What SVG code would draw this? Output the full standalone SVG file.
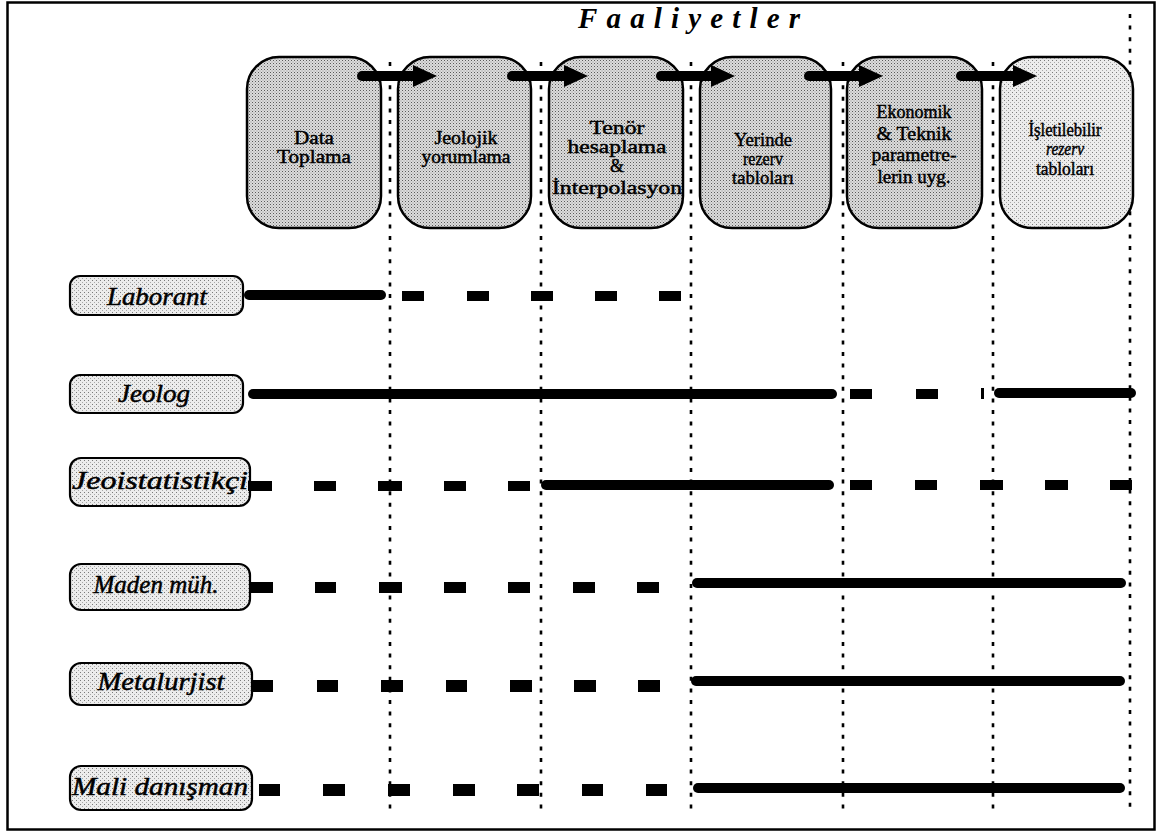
<svg xmlns="http://www.w3.org/2000/svg" width="1160" height="832" viewBox="0 0 1160 832">
<style>
.act{stroke:#000;stroke-width:2.5}
.role{stroke:#000;stroke-width:2.2}
.at{font-family:"Liberation Serif","Times New Roman",serif;font-size:18px;fill:#000;stroke:#000;stroke-width:0.45;text-anchor:middle}
.rt{font-family:"Liberation Serif","Times New Roman",serif;font-size:26px;font-style:italic;fill:#000;stroke:#000;stroke-width:0.5;text-anchor:middle}
.grid{stroke:#000;stroke-width:2.6;stroke-dasharray:4 7.6;fill:none}
.bar{stroke:#000;stroke-width:10;stroke-linecap:round;fill:none}
.arr{stroke:#000;stroke-width:10;stroke-linecap:round;fill:none}
.d{fill:#000}
</style>
<defs>
<pattern id="stip" width="3" height="3" patternUnits="userSpaceOnUse">
<rect width="3" height="3" fill="#dcdcdc"/>
<rect x="0" y="0" width="1" height="1" fill="#5a5a5a"/>
<rect x="1.5" y="1.5" width="1" height="1" fill="#909090"/>
</pattern>
<pattern id="stipL" width="4" height="4" patternUnits="userSpaceOnUse">
<rect width="4" height="4" fill="#ececec"/>
<rect x="0" y="0" width="1" height="1" fill="#7a7a7a"/>
<rect x="2" y="2" width="1" height="1" fill="#a8a8a8"/>
</pattern>
<marker id="ah" viewBox="0 0 24 22" markerWidth="24" markerHeight="22" refX="2" refY="11" orient="auto" markerUnits="userSpaceOnUse">
<path d="M0,0 L24,11 L0,22 z" fill="#000"/>
</marker>
</defs>
<rect x="0" y="0" width="1160" height="832" fill="#fff"/>
<rect x="7.5" y="2.5" width="1147" height="827" fill="none" stroke="#000" stroke-width="2.5"/>
<text x="578" y="28" font-family="'Liberation Serif','Times New Roman',serif" font-size="29" font-weight="bold" font-style="italic" textLength="222" lengthAdjust="spacing">Faaliyetler</text>

<g id="grid">
<line class="grid" x1="390" y1="62" x2="390" y2="812"/>
<line class="grid" x1="541" y1="62" x2="541" y2="812"/>
<line class="grid" x1="691" y1="62" x2="691" y2="812"/>
<line class="grid" x1="843" y1="62" x2="843" y2="812"/>
<line class="grid" x1="993" y1="62" x2="993" y2="812"/>
<line class="grid" x1="1130" y1="14" x2="1130" y2="812"/>
</g>

<g id="act1">
<rect class="act" x="247" y="57" width="134" height="171" rx="32" fill="url(#stip)"/>
<text class="at" x="314" y="144" textLength="40" lengthAdjust="spacingAndGlyphs">Data</text>
<text class="at" x="314" y="163" textLength="74" lengthAdjust="spacingAndGlyphs">Toplama</text>
</g>
<g id="act2">
<rect class="act" x="398" y="57" width="133" height="171" rx="32" fill="url(#stip)"/>
<text class="at" x="466" y="144" textLength="63" lengthAdjust="spacingAndGlyphs">Jeolojik</text>
<text class="at" x="466" y="163" textLength="89" lengthAdjust="spacingAndGlyphs">yorumlama</text>
</g>
<g id="act3">
<rect class="act" x="549" y="57" width="134" height="171" rx="32" fill="url(#stip)"/>
<text class="at" x="617" y="134" textLength="55" lengthAdjust="spacingAndGlyphs">Tenör</text>
<text class="at" x="617" y="153" textLength="99" lengthAdjust="spacingAndGlyphs">hesaplama</text>
<text class="at" x="617" y="172">&amp;</text>
<text class="at" x="617" y="194" textLength="130" lengthAdjust="spacingAndGlyphs">İnterpolasyon</text>
</g>
<g id="act4">
<rect class="act" x="700" y="57" width="131" height="171" rx="32" fill="url(#stip)"/>
<text class="at" x="763" y="146" textLength="58" lengthAdjust="spacingAndGlyphs">Yerinde</text>
<text class="at" x="763" y="165" textLength="40" lengthAdjust="spacingAndGlyphs">rezerv</text>
<text class="at" x="763" y="184" textLength="62" lengthAdjust="spacingAndGlyphs">tabloları</text>
</g>
<g id="act5">
<rect class="act" x="847" y="57" width="135" height="171" rx="32" fill="url(#stip)"/>
<text class="at" x="914" y="118" textLength="75" lengthAdjust="spacingAndGlyphs">Ekonomik</text>
<text class="at" x="914" y="140" textLength="75" lengthAdjust="spacingAndGlyphs">&amp; Teknik</text>
<text class="at" x="914" y="161" textLength="85" lengthAdjust="spacingAndGlyphs">parametre-</text>
<text class="at" x="914" y="183" textLength="73" lengthAdjust="spacingAndGlyphs">lerin uyg.</text>
</g>
<g id="act6">
<rect class="act" x="1000" y="57" width="133" height="171" rx="32" fill="url(#stipL)"/>
<text class="at" x="1065" y="136" textLength="73" lengthAdjust="spacingAndGlyphs">İşletilebilir</text>
<text class="at" x="1065" y="155" font-style="italic" textLength="38" lengthAdjust="spacingAndGlyphs">rezerv</text>
<text class="at" x="1065" y="175" textLength="58" lengthAdjust="spacingAndGlyphs">tabloları</text>
</g>

<g id="role-laborant">
<rect class="role" x="70" y="276" width="173" height="39" rx="10" fill="url(#stipL)"/>
<text class="rt" x="157" y="305" textLength="100" lengthAdjust="spacingAndGlyphs">Laborant</text>
</g>
<g id="role-jeolog">
<rect class="role" x="70" y="375" width="173" height="38" rx="10" fill="url(#stipL)"/>
<text class="rt" x="154" y="402" textLength="72" lengthAdjust="spacingAndGlyphs">Jeolog</text>
</g>
<g id="role-jeoistatistikci">
<rect class="role" x="70" y="458" width="180" height="48" rx="11" fill="url(#stipL)"/>
<text class="rt" x="160" y="489" textLength="176" lengthAdjust="spacingAndGlyphs">Jeoistatistikçi</text>
</g>
<g id="role-maden">
<rect class="role" x="70" y="564" width="180" height="46" rx="11" fill="url(#stipL)"/>
<text class="rt" x="156" y="593" textLength="125" lengthAdjust="spacingAndGlyphs">Maden müh.</text>
</g>
<g id="role-metalurjist">
<rect class="role" x="70" y="663" width="182" height="42" rx="11" fill="url(#stipL)"/>
<text class="rt" x="161" y="690" textLength="127" lengthAdjust="spacingAndGlyphs">Metalurjist</text>
</g>
<g id="role-mali">
<rect class="role" x="70" y="766" width="182" height="44" rx="11" fill="url(#stipL)"/>
<text class="rt" x="160" y="795" textLength="176" lengthAdjust="spacingAndGlyphs">Mali danışman</text>
</g>

<g id="connectors">
<line class="arr" x1="362" y1="76" x2="415" y2="76" marker-end="url(#ah)"/>
<line class="arr" x1="512" y1="76" x2="566" y2="76" marker-end="url(#ah)"/>
<line class="arr" x1="661" y1="76" x2="713" y2="76" marker-end="url(#ah)"/>
<line class="arr" x1="809" y1="76" x2="861" y2="76" marker-end="url(#ah)"/>
<line class="arr" x1="961" y1="76" x2="1015" y2="76" marker-end="url(#ah)"/>

<line class="bar" x1="249" y1="295" x2="381" y2="295"/>
<rect class="d" x="402" y="291" width="22" height="10"/>
<rect class="d" x="467" y="291" width="22" height="10"/>
<rect class="d" x="531" y="291" width="22" height="10"/>
<rect class="d" x="595" y="291" width="22" height="10"/>
<rect class="d" x="659" y="291" width="22" height="10"/>

<line class="bar" x1="253" y1="394" x2="832" y2="394"/>
<rect class="d" x="850" y="389" width="22" height="10"/>
<rect class="d" x="916" y="389" width="22" height="10"/>
<rect class="d" x="981" y="388" width="3" height="11"/>
<line class="bar" x1="999" y1="393" x2="1131" y2="393"/>

<rect class="d" x="248" y="481" width="24" height="10"/>
<rect class="d" x="314" y="481" width="22" height="10"/>
<rect class="d" x="378" y="481" width="24" height="10"/>
<rect class="d" x="444" y="481" width="22" height="10"/>
<rect class="d" x="508" y="481" width="22" height="10"/>
<line class="bar" x1="546" y1="485" x2="829" y2="485"/>
<rect class="d" x="850" y="480" width="22" height="10"/>
<rect class="d" x="915" y="480" width="22" height="10"/>
<rect class="d" x="980" y="480" width="23" height="10"/>
<rect class="d" x="1045" y="480" width="23" height="10"/>
<rect class="d" x="1110" y="480" width="22" height="10"/>

<rect class="d" x="250" y="582" width="23" height="11"/>
<rect class="d" x="315" y="582" width="21" height="11"/>
<rect class="d" x="379" y="582" width="23" height="11"/>
<rect class="d" x="444" y="582" width="22" height="11"/>
<rect class="d" x="508" y="582" width="22" height="11"/>
<rect class="d" x="573" y="582" width="22" height="11"/>
<rect class="d" x="637" y="582" width="22" height="11"/>
<line class="bar" x1="697" y1="583" x2="1121" y2="583"/>

<rect class="d" x="252" y="680" width="21" height="12"/>
<rect class="d" x="317" y="680" width="21" height="12"/>
<rect class="d" x="381" y="680" width="22" height="12"/>
<rect class="d" x="446" y="680" width="21" height="12"/>
<rect class="d" x="510" y="680" width="22" height="12"/>
<rect class="d" x="574" y="680" width="22" height="12"/>
<rect class="d" x="638" y="680" width="22" height="12"/>
<line class="bar" x1="696" y1="681" x2="1120" y2="681"/>

<rect class="d" x="259" y="784" width="21" height="12"/>
<rect class="d" x="323" y="784" width="22" height="12"/>
<rect class="d" x="388" y="784" width="22" height="12"/>
<rect class="d" x="453" y="784" width="22" height="12"/>
<rect class="d" x="517" y="784" width="22" height="12"/>
<rect class="d" x="582" y="784" width="21" height="12"/>
<rect class="d" x="646" y="784" width="21" height="12"/>
<line class="bar" x1="698" y1="788" x2="1120" y2="788"/>
</g>
</svg>
